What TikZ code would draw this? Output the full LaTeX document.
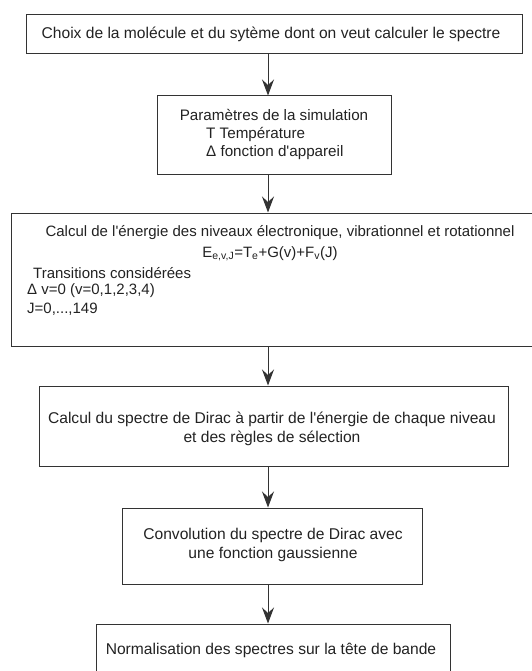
\documentclass[tikz,border=0pt]{standalone}
\usepackage{fontspec}
\setmainfont{Liberation Sans}
\usetikzlibrary{arrows.meta}
\definecolor{ink}{HTML}{222222}
\definecolor{edge}{HTML}{333333}
\tikzset{
  box/.style={draw=edge, line width=1pt, inner sep=0pt, minimum width=#1},
  txt/.style={text=ink, inner sep=0pt, font=\fontsize{15.6}{19}\selectfont},
  txtb/.style={text=ink, inner sep=0pt, font=\fontsize{15.2}{19}\selectfont},
  txtc/.style={text=ink, inner sep=0pt, font=\fontsize{15}{19}\selectfont},
  conn/.style={draw=edge, line width=1pt, -{Stealth[length=16pt, width=12pt, inset=5.5pt]}}
}
\begin{document}
\begin{tikzpicture}[x=1pt, y=-1pt]
\useasboundingbox (0,0) rectangle (531,671);
% boxes
\node[box=496pt, minimum height=39pt] (b1) at (274,34.5) {};
\node[box=234pt, minimum height=78pt] (b2) at (274,135) {};
\node[box=522pt, minimum height=133pt] (b3) at (272,279.5) {};
\node[box=469pt, minimum height=80pt] (b4) at (273.5,426) {};
\node[box=300pt, minimum height=76pt] (b5) at (272,546) {};
\node[box=354pt, minimum height=52pt] (b6) at (273,650) {};
% texts
\node[txt] (t1) at (271,34) {Choix de la molécule et du sytème dont on veut calculer le spectre};
\node[txtb] (t2a) at (274,115) {Paramètres de la simulation};
\node[txtb, anchor=west] (t2b) at (206,134) {T Température};
\node[txtb, anchor=west] (t2c) at (206,153) {Δ fonction d\textquotesingle appareil};
\node[txtc] (t3a) at (280,233) {Calcul de l\textquotesingle énergie des niveaux électronique, vibrationnel et rotationnel};
\node[txtc] (t3b) at (270,254) {E\textsubscript{e,v,J}=T\textsubscript{e}+G(v)+F\textsubscript{v}(J)};
\node[txtc, anchor=west] (t3c) at (33,273) {Transitions considérées};
\node[txtc, anchor=west] (t3d) at (27,291) {Δ v=0 (v=0,1,2,3,4)};
\node[txtc, anchor=west] (t3e) at (27,309) {J=0,...,149};
\node[txt, align=center] (t4) at (272,429) {Calcul du spectre de Dirac à partir de l\textquotesingle énergie de chaque niveau\\et des règles de sélection};
\node[txt, align=center] (t5) at (273,544.5) {Convolution du spectre de Dirac avec\\une fonction gaussienne};
\node[txt] (t6) at (271,650) {Normalisation des spectres sur la tête de bande};
% connectors
\coordinate (ax) at (268,0);
\draw[conn] (b1.south -| ax) -- (b2.north -| ax);
\draw[conn] (b2.south -| ax) -- (b3.north -| ax);
\draw[conn] (b3.south -| ax) -- (b4.north -| ax);
\draw[conn] (b4.south -| ax) -- (b5.north -| ax);
\draw[conn] (b5.south -| ax) -- (b6.north -| ax);
\end{tikzpicture}
\end{document}
